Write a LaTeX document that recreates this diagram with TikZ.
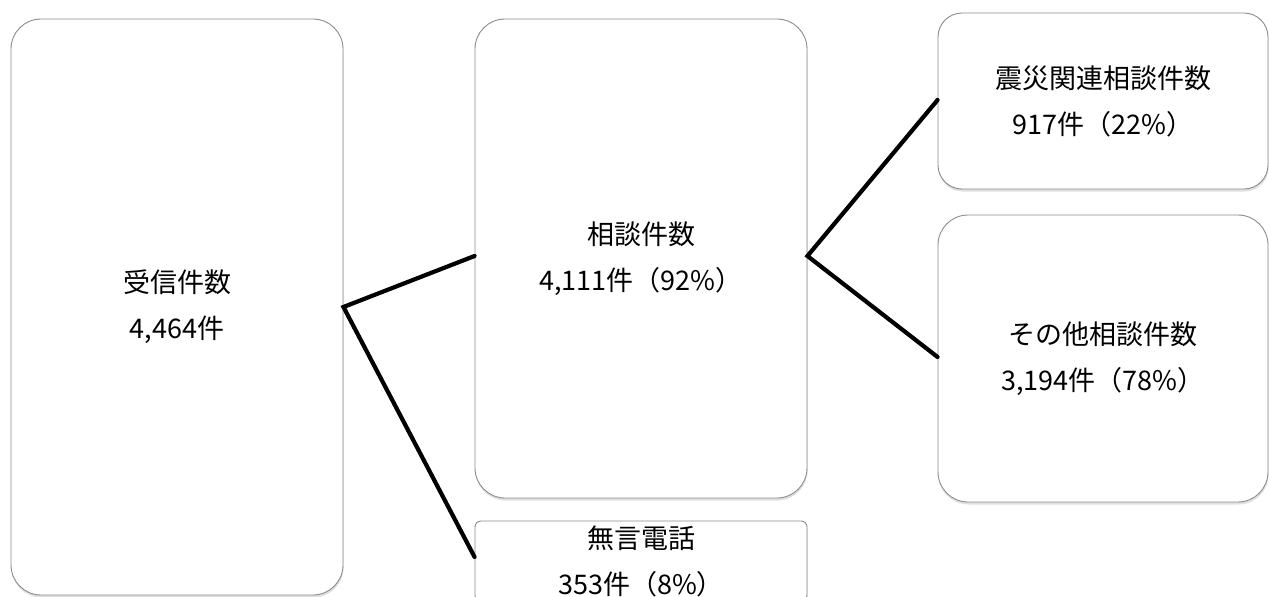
\documentclass[tikz,border=0pt]{standalone}
\usepackage{fontspec}
\setmainfont{Noto Sans CJK JP}
\usetikzlibrary{shadows}
\tikzset{
  box/.style={draw=black!45, line width=0.9pt, fill=white, rounded corners=30pt, align=center,
    font=\fontsize{27}{46}\selectfont, inner sep=0pt,
    drop shadow={opacity=0.25, shadow xshift=0.5pt, shadow yshift=-2.5pt}},
  link/.style={line width=4.2pt, black, line cap=round}
}
\begin{document}
\begin{tikzpicture}[x=1pt,y=-1pt]
\useasboundingbox (0,0) rectangle (1269,597);
\node[box, minimum width=332pt, minimum height=576pt] (A) at (177,307) {受信件数\\4,464件};
\node[box, minimum width=332pt, minimum height=479pt] (B) at (641,258.5) {相談件数\\4,111件（92\%）};
\node[box, rounded corners=6pt, minimum width=332pt, minimum height=80pt] (C) at (641,561) {無言電話\\353件（8\%）};
\node[box, rounded corners=24pt, minimum width=330pt, minimum height=176pt] (D) at (1103,101) {震災関連相談件数\\917件（22\%）};
\node[box, rounded corners=30pt, minimum width=330pt, minimum height=287pt] (E) at (1103,358.5) {その他相談件数\\3,194件（78\%）};
\coordinate (a) at (A.east);
\coordinate (b) at (B.east);
\draw[link] (B.west |- 0,256) -- (a) -- (C.west |- 0,557);
\draw[link] (D.west |- 0,100) -- (b |- 0,256) -- (E.west |- 0,357);
\end{tikzpicture}
\end{document}
